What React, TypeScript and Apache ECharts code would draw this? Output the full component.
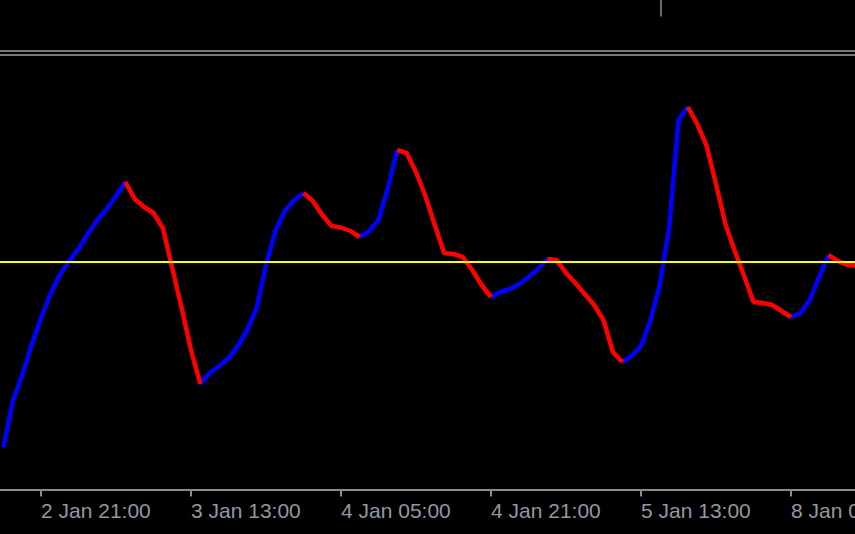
import React, { useEffect, useRef } from "react";
import * as echarts from "echarts";

// Indicator values, one per hourly bar (bar 0 = 2 Jan 17:00)
const indicatorValues: number[] = [
  13.0, 22.2, 27.4, 33.4, 38.8, 43.6, 47.4, 50.2, 52.6, 55.6,
  58.4, 60.6, 63.2, 66.0, 62.6, 61.0, 59.8, 56.8, 48.8, 40.8,
  32.4, 25.6, 27.8, 29.2, 30.8, 33.2, 36.4, 40.8, 49.4, 56.2,
  60.2, 62.4, 63.8, 62.2, 59.4, 57.2, 56.9, 56.2, 55.0, 56.2,
  58.4, 64.8, 72.4, 71.8, 68.0, 63.2, 57.4, 51.8, 51.6, 51.0,
  48.4, 45.4, 43.0, 44.0, 44.6, 45.6, 47.0, 48.6, 50.6, 50.4,
  47.8, 45.8, 43.6, 41.4, 38.4, 32.0, 30.0, 31.2, 33.2, 38.2,
  45.4, 56.8, 78.4, 81.0, 77.6, 73.2, 65.6, 57.6, 52.2, 47.2,
  42.0, 41.8, 41.4, 40.2, 39.0, 39.8, 42.4, 47.0, 51.4, 50.2,
  49.4, 49.3,
];

// Time-axis labels and the bar index at which each sits
const tickBarIndex: number[] = [4, 20, 36, 52, 68, 84];
const tickLabels: string[] = [
  "2 Jan 21:00",
  "3 Jan 13:00",
  "4 Jan 05:00",
  "4 Jan 21:00",
  "5 Jan 13:00",
  "8 Jan 04:00",
];

const levelValue = 50;

export default function App() {
  const ref = useRef<HTMLDivElement>(null);

  useEffect(() => {
    document.body.style.margin = "0";
    document.body.style.background = "#000";
    if (!ref.current) return;
    const chart = echarts.init(ref.current, undefined, { renderer: "svg" });

    const up: any[] = [];
    const down: any[] = [];
    let cur: string | null = null;
    for (let i = 0; i < indicatorValues.length - 1; i++) {
      const a = indicatorValues[i];
      const b = indicatorValues[i + 1];
      const dir = b >= a ? "up" : "down";
      const target = dir === "up" ? up : down;
      if (dir !== cur) {
        if (target.length) target.push([i, null]);
        target.push([i, a]);
        cur = dir;
      }
      target.push([i + 1, b]);
    }

    const lineCommon = {
      type: "line",
      showSymbol: false,
      symbol: "none",
      connectNulls: false,
      clip: true,
      silent: true,
    };

    chart.setOption({
      animation: false,
      backgroundColor: "#000000",
      grid: {
        left: 0,
        right: 0,
        top: 56,
        bottom: 44.5,
        containLabel: false,
        outerBoundsMode: "none",
      },
      xAxis: {
        type: "value",
        min: -0.3733,
        max: 90.8267,
        splitLine: { show: false },
        axisLine: { show: true, lineStyle: { color: "#8c8c8c", width: 2 } },
        axisTick: {
          show: true,
          customValues: tickBarIndex,
          length: 7,
          lineStyle: { color: "#8c8c8c", width: 2 },
        },
        axisLabel: {
          show: true,
          customValues: tickBarIndex,
          formatter: (v: number) => {
            const idx = tickBarIndex.indexOf(Math.round(v));
            return idx >= 0 ? tickLabels[idx] : "";
          },
          align: "left",
          margin: 10,
          color: "#8f99a4",
          fontFamily: "Liberation Sans",
          fontSize: 21,
          showMinLabel: true,
          showMaxLabel: true,
          hideOverlap: false,
        },
      },
      yAxis: {
        type: "value",
        min: 4.5,
        max: 91.2,
        show: false,
        splitLine: { show: false },
      },
      series: [
        {
          ...lineCommon,
          name: "up",
          data: up,
          z: 2,
          lineStyle: { color: "#0000ff", width: 4.5 },
        },
        {
          ...lineCommon,
          name: "down",
          data: down,
          z: 3,
          lineStyle: { color: "#ff0000", width: 4.5 },
        },
        {
          type: "line",
          name: "level",
          data: [],
          z: 5,
          silent: true,
          markLine: {
            silent: true,
            symbol: "none",
            label: { show: false },
            lineStyle: { color: "#ffff00", width: 2, type: "solid" },
            data: [{ yAxis: levelValue }],
          },
        },
      ],
      graphic: [
        {
          type: "line",
          shape: { x1: 0, y1: 51, x2: 855, y2: 51 },
          style: { stroke: "#7a7a7a", lineWidth: 2 },
          silent: true,
        },
        {
          type: "line",
          shape: { x1: 0, y1: 55, x2: 855, y2: 55 },
          style: { stroke: "#7a7a7a", lineWidth: 2 },
          silent: true,
        },
        {
          type: "line",
          shape: { x1: 661, y1: 0, x2: 661, y2: 16.5 },
          style: { stroke: "#6a6a6a", lineWidth: 2 },
          silent: true,
        },
      ],
    });

    return () => chart.dispose();
  }, []);

  return (
    <div
      ref={ref}
      style={{ position: "fixed", left: 0, top: 0, width: 855, height: 534 }}
    />
  );
}
